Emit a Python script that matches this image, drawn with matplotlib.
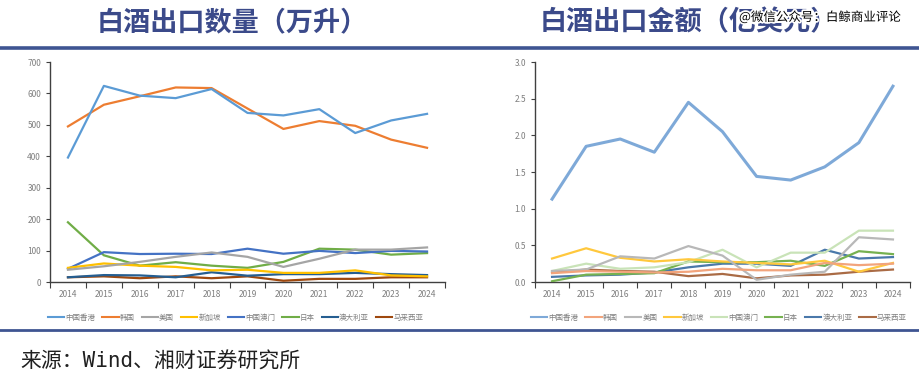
import numpy as np
import matplotlib.pyplot as plt
import matplotlib.patheffects as pe
from matplotlib.lines import Line2D

plt.rcParams['font.family'] = ['Noto Sans CJK SC', 'DejaVu Sans']

years = [str(y) for y in range(2014, 2025)]
regions = ['中国香港', '韩国', '美国', '新加坡', '中国澳门', '日本', '澳大利亚', '马来西亚']

# 白酒出口数量（万升）
vol_hk = [396, 624, 593, 585, 614, 538, 530, 550, 474, 514, 535]
vol_kr = [495, 564, 591, 619, 617, 552, 487, 512, 497, 453, 427]
vol_us = [39, 50, 64, 80, 94, 80, 48, 74, 103, 103, 110]
vol_sg = [45, 59, 52, 48, 37, 39, 29, 29, 37, 21, 18]
vol_mo = [42, 95, 89, 90, 89, 106, 90, 99, 92, 99, 97]
vol_jp = [190, 85, 52, 63, 52, 45, 64, 106, 103, 87, 92]
vol_au = [15, 22, 21, 15, 31, 20, 25, 25, 29, 25, 22]
vol_my = [15, 18, 12, 18, 12, 18, 4, 10, 10, 15, 15]

# 白酒出口金额（亿美元）
val_hk = [1.13, 1.85, 1.95, 1.77, 2.45, 2.05, 1.44, 1.39, 1.57, 1.90, 2.67]
val_kr = [0.12, 0.15, 0.14, 0.13, 0.14, 0.18, 0.16, 0.16, 0.26, 0.23, 0.25]
val_us = [0.15, 0.17, 0.35, 0.32, 0.49, 0.36, 0.03, 0.10, 0.14, 0.61, 0.58]
val_sg = [0.32, 0.46, 0.33, 0.28, 0.31, 0.28, 0.26, 0.24, 0.29, 0.14, 0.26]
val_mo = [0.15, 0.25, 0.18, 0.20, 0.27, 0.44, 0.20, 0.40, 0.40, 0.70, 0.70]
val_jp = [0.01, 0.10, 0.11, 0.12, 0.28, 0.27, 0.27, 0.29, 0.22, 0.42, 0.38]
val_au = [0.07, 0.09, 0.10, 0.13, 0.20, 0.25, 0.25, 0.22, 0.44, 0.32, 0.34]
val_my = [0.13, 0.17, 0.15, 0.14, 0.08, 0.11, 0.05, 0.09, 0.10, 0.14, 0.17]

vol_series = [vol_hk, vol_kr, vol_us, vol_sg, vol_mo, vol_jp, vol_au, vol_my]
val_series = [val_hk, val_kr, val_us, val_sg, val_mo, val_jp, val_au, val_my]

left_colors = ['#5B9BD5', '#ED7D31', '#A5A5A5', '#FFC000', '#4472C4', '#70AD47', '#255E91', '#9E480E']
right_colors = ['#7EA9D8', '#F2A47C', '#B8B8B8', '#FFC83D', '#C9E3B8', '#76B150', '#4A78AA', '#AA6B45']

title_color = '#3B4A8A'
tick_color = '#7F7F7F'


def draw_chart(ax, series, colors, ylim, yticks, yfmt, lw_hk, leg_x):
    x = np.arange(len(years))
    for i, (vals, c) in enumerate(zip(series, colors)):
        lw = lw_hk if i == 0 else 1.6
        ax.plot(x, vals, color=c, lw=lw, zorder=10 - i * 0.1)
    ax.set_xlim(-0.5, len(years) - 0.5)
    ax.set_ylim(*ylim)
    ax.set_yticks(yticks)
    ax.set_yticklabels([yfmt.format(v) for v in yticks])
    # Excel-like category axis: marks between categories, labels at centres
    ax.set_xticks(np.arange(-0.5, len(years)), minor=False)
    ax.set_xticklabels([''] * (len(years) + 1))
    ax.set_xticks(x, minor=True)
    ax.set_xticklabels(years, minor=True)
    ax.tick_params(axis='x', which='major', length=4, direction='out', color='#404040')
    ax.tick_params(axis='x', which='minor', length=0, pad=6, labelsize=6, labelcolor=tick_color)
    ax.tick_params(axis='y', length=3, direction='out', color='#404040', labelsize=6, labelcolor=tick_color)
    for s in ['top', 'right']:
        ax.spines[s].set_visible(False)
    for s in ['left', 'bottom']:
        ax.spines[s].set_color('#404040')
        ax.spines[s].set_linewidth(1.0)
    handles = [Line2D([0], [0], color=c, lw=1.5) for c in colors]
    ax.legend(handles, regions, loc='upper center', bbox_to_anchor=(leg_x, -0.12), ncol=8,
              frameon=False, fontsize=5.4, labelcolor=tick_color, handlelength=2.2,
              handletextpad=0.15, columnspacing=0.9, borderpad=0.2)


fig = plt.figure(figsize=(9.2, 3.78), dpi=100)
W, H = 920, 378

ax1 = fig.add_axes([50 / W, 96 / H, 395 / W, 220 / H])
draw_chart(ax1, vol_series, left_colors, (0, 700), list(range(0, 701, 100)), '{:d}', 1.6, 0.47)

ax2 = fig.add_axes([535 / W, 96 / H, 375 / W, 220 / H])
draw_chart(ax2, val_series, right_colors, (0, 3.0), [0, 0.5, 1.0, 1.5, 2.0, 2.5, 3.0], '{:.1f}', 2.2, 0.49)

# header / footer decorations
fig.text(232 / W, 1 - 22 / H, '白酒出口数量（万升）', ha='center', va='center',
         fontsize=19.5, fontweight='bold', color=title_color)
fig.text(689 / W, 1 - 22 / H, '白酒出口金额（亿美元）', ha='center', va='center',
         fontsize=19.5, fontweight='bold', color=title_color)
fig.add_artist(Line2D([0, 1], [1 - 47.5 / H] * 2, color='#3F5592', lw=2.6))
fig.add_artist(Line2D([0, 1], [1 - 329.5 / H] * 2, color='#3F5592', lw=2.0))

wm = fig.text(820 / W, 1 - 17 / H, '@微信公众号：白鲸商业评论', ha='center', va='center',
              fontsize=9, color='black')
wm.set_path_effects([pe.withStroke(linewidth=2.5, foreground='white')])

fig.text(20 / W, 1 - 362 / H, '来源：Wind、湘财证券研究所', ha='left', va='center',
         fontsize=15, color='#202020', family=['DejaVu Sans Mono', 'Noto Sans CJK SC'])

fig.savefig('out.png', dpi=100)
